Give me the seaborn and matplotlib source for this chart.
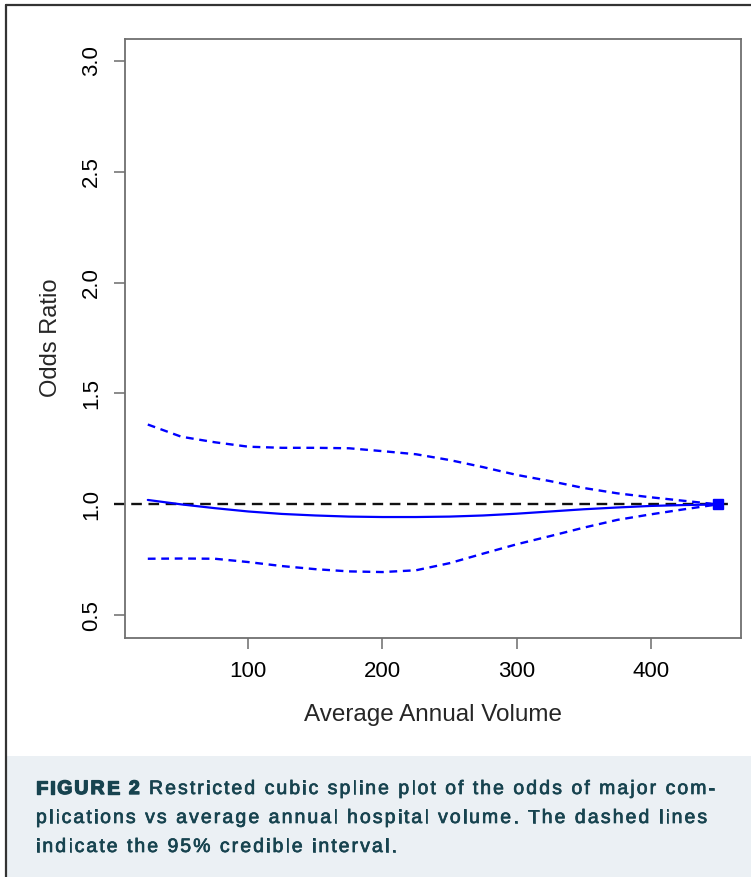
import pandas as pd
import seaborn as sns
import matplotlib.pyplot as plt
import matplotlib.patheffects as pe
from matplotlib.lines import Line2D
from matplotlib.patches import Rectangle
from matplotlib.font_manager import FontProperties

# Valores (spline cúbica restrita)
volume = [25, 50, 75, 100, 125, 150, 175, 200, 225, 250, 275, 300, 325, 350, 375, 400, 425, 450]
odds_ratio = [1.02, 1.0, 0.983, 0.968, 0.957, 0.95, 0.945, 0.943, 0.943, 0.945, 0.95, 0.958,
              0.968, 0.978, 0.986, 0.993, 0.997, 1.0]
ci_lower = [0.755, 0.756, 0.755, 0.74, 0.722, 0.708, 0.698, 0.695, 0.703, 0.735, 0.778, 0.82,
            0.857, 0.895, 0.93, 0.955, 0.978, 1.0]
ci_upper = [1.36, 1.305, 1.28, 1.26, 1.255, 1.255, 1.253, 1.24, 1.226, 1.2, 1.168, 1.133,
            1.105, 1.074, 1.05, 1.032, 1.016, 1.0]
ref_x = [0, 460]
ref_y = [1.0, 1.0]
x_ticks = [100, 200, 300, 400]
y_ticks = [0.5, 1.0, 1.5, 2.0, 2.5, 3.0]

caption_bold = 'FIGURE 2 '
caption_lines = ['Restricted cubic spline plot of the odds of major com-',
                 'plications vs average annual hospital volume. The dashed lines',
                 'indicate the 95% credible interval.']

sns.set_theme(style="white")
plt.rcParams['font.family'] = ['Liberation Sans', 'DejaVu Sans']

W, H = 751, 877
fig = plt.figure(figsize=(W / 100, H / 100), dpi=100)
ax = fig.add_axes([125 / W, 1 - 637.5 / H, (740.5 - 125) / W, (637.5 - 38.5) / H])

df = pd.DataFrame({'volume': volume, 'odds': odds_ratio, 'lower': ci_lower, 'upper': ci_upper})

# linha de referência OR = 1
ax.plot(ref_x, ref_y, color='#111111', lw=1.7, ls=(0, (4.5, 2.8)), clip_on=False, zorder=1)

sns.lineplot(data=df, x='volume', y='odds', ax=ax, color='blue', lw=1.6, zorder=3)
for col in ['lower', 'upper']:
    sns.lineplot(data=df, x='volume', y=col, ax=ax, color='blue', lw=1.7,
                 linestyle=(0, (3.3, 2.4)), zorder=3)
ax.plot(volume[-1], odds_ratio[-1], marker='s', color='blue', markersize=6.5, zorder=4)

ax.set_xlim(8, 467)
ax.set_ylim(0.4, 3.1)
ax.set_xticks(x_ticks)
ax.set_yticks(y_ticks)
ax.set_xticklabels([str(t) for t in x_ticks])
ax.set_yticklabels([f'{t:.1f}' for t in y_ticks], rotation=90, va='center')
ax.tick_params(direction='out', length=8, width=1.2, color='#777777', labelsize=16,
               labelcolor='black', left=True, bottom=True)
ax.tick_params(axis='x', pad=9)
ax.tick_params(axis='y', pad=8.5)
for sp in ax.spines.values():
    sp.set_visible(True)
    sp.set_color('#707070')
    sp.set_linewidth(1.3)

ax.set_xlabel('Average Annual Volume', fontsize=17.5, labelpad=16)
ax.set_ylabel('Odds Ratio', fontsize=17, labelpad=14)

# moldura e legenda da figura
fig.patches.append(Rectangle((7 / W, 0), 1, (877 - 756) / H, transform=fig.transFigure,
                             facecolor='#ebf0f4', edgecolor='none', zorder=0))
fig.add_artist(Line2D([6 / W, 6 / W], [0, 1 - 5 / H], transform=fig.transFigure,
                      color='#333333', lw=1.6))
fig.add_artist(Line2D([6 / W, 1], [1 - 5 / H, 1 - 5 / H], transform=fig.transFigure,
                      color='#333333', lw=1.6))

cap_color = '#17434f'
cap_size = 14
baselines = [794, 823, 852]
renderer = fig.canvas.get_renderer()


def char_widths(s, weight):
    prop = FontProperties(family=['Liberation Sans'], size=cap_size, weight=weight)
    out = []
    for ch in s:
        if ch == ' ':
            w, _, _ = renderer.get_text_width_height_descent('a a', prop, ismath=False)
            w2, _, _ = renderer.get_text_width_height_descent('aa', prop, ismath=False)
            out.append(w - w2)
        else:
            w, _, _ = renderer.get_text_width_height_descent(ch, prop, ismath=False)
            out.append(w)
    return out


def draw_tracked(s, x, yb, weight, track, stroke):
    for ch, w in zip(s, char_widths(s, weight)):
        if ch != ' ':
            fig.text(x / W, 1 - yb / H, ch, fontsize=cap_size, fontweight=weight,
                     color=cap_color, va='baseline', ha='left',
                     path_effects=[pe.withStroke(linewidth=stroke, foreground=cap_color)])
        x += w + track
    return x


# espaçamento entre letras ajustado para a primeira linha ir de 36 a 715 px
line1 = caption_bold + caption_lines[0]
base_w = sum(char_widths(caption_bold, 'bold')) + sum(char_widths(caption_lines[0], 'normal'))
track = (715 - 36 - base_w) / (len(line1) - 1)

x = draw_tracked(caption_bold, 36, baselines[0], 'bold', track, 1.0)
draw_tracked(caption_lines[0], x, baselines[0], 'normal', track, 0.5)
for line, yb in zip(caption_lines[1:], baselines[1:]):
    draw_tracked(line, 36, yb, 'normal', track, 0.5)

fig.savefig('out.png', dpi=100)
